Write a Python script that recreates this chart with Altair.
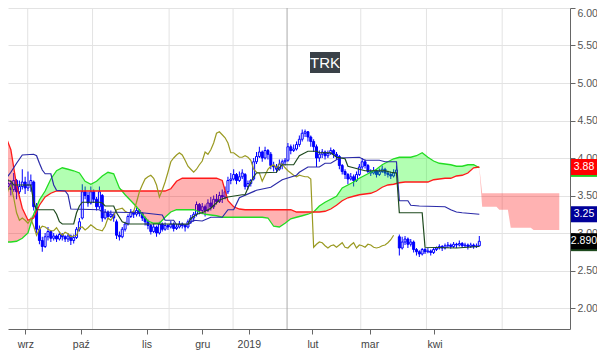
import altair as alt
import pandas as pd

# ---------------- data (x = trading-session index, 0 = first visible session) -------------
opens = [3.66, 3.62, 3.66, 3.58, 3.70, 3.55, 3.62, 3.68, 3.60, 3.64,
         3.68, 3.35, 3.05, 2.90, 2.82, 2.95, 3.02, 2.93, 2.96, 2.92,
         2.98, 2.95, 2.92, 2.96, 2.90, 2.94, 3.05, 3.20, 3.55, 3.50,
         3.40, 3.55, 3.45, 3.35, 3.50, 3.20, 3.28, 3.22, 3.25, 3.15,
         2.97, 2.95, 3.05, 3.12, 3.22, 3.28, 3.25, 3.30, 3.26, 3.20,
         3.15, 3.10, 3.02, 3.08, 3.00, 3.12, 3.05, 3.10, 3.08, 3.12,
         3.06, 3.08, 3.12, 3.10, 3.08, 3.15, 3.20, 3.25, 3.38, 3.30,
         3.35, 3.30, 3.40, 3.35, 3.45, 3.42, 3.50, 3.48, 3.55, 3.70,
         3.72, 3.78, 3.70, 3.75, 3.78, 3.62, 3.66, 3.72, 3.95, 4.02,
         4.08, 4.00, 4.10, 4.05, 3.90, 3.88, 3.85, 3.92, 3.95, 3.97,
         4.15, 4.10, 4.12, 4.18, 4.25, 4.33, 4.35, 4.28, 4.22, 4.15,
         4.00, 4.05, 4.08, 4.03, 4.06, 4.10, 4.05, 4.02, 3.90, 3.82,
         3.78, 3.72, 3.75, 3.70, 3.78, 3.88, 3.95, 3.90, 3.82, 3.80,
         3.83, 3.78, 3.82, 3.85, 3.80, 3.78, 3.76, 3.80, 2.95, 2.80,
         2.88, 2.92, 2.85, 2.88, 2.78, 2.75, 2.72, 2.78, 2.75, 2.76,
         2.74, 2.78, 2.80, 2.82, 2.80, 2.83, 2.84, 2.82, 2.85, 2.84,
         2.86, 2.83, 2.84, 2.82, 2.84, 2.82, 2.83]
highs = [3.75, 3.72, 3.70, 3.80, 3.72, 3.70, 3.85, 3.75, 3.82, 3.78,
         3.70, 3.40, 3.10, 2.95, 3.00, 3.08, 3.04, 3.00, 2.98, 3.02,
         3.00, 2.97, 3.00, 2.98, 2.98, 3.08, 3.20, 3.65, 3.62, 3.55,
         3.62, 3.58, 3.48, 3.62, 3.52, 3.32, 3.30, 3.30, 3.26, 3.18,
         3.02, 3.08, 3.15, 3.25, 3.32, 3.30, 3.34, 3.32, 3.28, 3.22,
         3.18, 3.12, 3.12, 3.10, 3.15, 3.14, 3.14, 3.12, 3.16, 3.14,
         3.12, 3.16, 3.14, 3.12, 3.18, 3.24, 3.28, 3.42, 3.40, 3.40,
         3.38, 3.45, 3.48, 3.50, 3.52, 3.55, 3.58, 3.62, 3.75, 3.80,
         3.85, 3.80, 3.82, 3.85, 3.80, 3.70, 3.72, 4.00, 4.08, 4.15,
         4.10, 4.15, 4.12, 4.08, 3.95, 3.92, 3.98, 3.98, 4.00, 4.20,
         4.18, 4.18, 4.22, 4.30, 4.38, 4.38, 4.36, 4.30, 4.25, 4.18,
         4.10, 4.12, 4.10, 4.10, 4.14, 4.12, 4.08, 4.04, 3.92, 3.85,
         3.80, 3.80, 3.78, 3.82, 3.92, 4.00, 3.98, 3.92, 3.85, 3.88,
         3.85, 3.86, 3.90, 3.87, 3.83, 3.82, 3.85, 3.90, 2.98, 2.95,
         2.96, 2.94, 2.92, 2.90, 2.80, 2.77, 2.80, 2.80, 2.80, 2.78,
         2.80, 2.82, 2.85, 2.84, 2.86, 2.88, 2.86, 2.88, 2.87, 2.90,
         2.88, 2.87, 2.86, 2.87, 2.86, 2.86, 2.96]
lows = [3.55, 3.58, 3.50, 3.55, 3.45, 3.52, 3.58, 3.52, 3.56, 3.55,
        3.30, 3.00, 2.85, 2.75, 2.80, 2.90, 2.88, 2.90, 2.88, 2.90,
        2.90, 2.88, 2.88, 2.84, 2.86, 2.92, 3.02, 3.18, 3.45, 3.35,
        3.38, 3.40, 3.30, 3.32, 3.15, 3.18, 3.18, 3.20, 3.15, 2.92,
        2.90, 2.93, 3.02, 3.10, 3.20, 3.20, 3.22, 3.22, 3.16, 3.10,
        3.05, 2.98, 3.00, 2.95, 2.98, 3.02, 3.03, 3.04, 3.06, 3.02,
        3.04, 3.06, 3.06, 3.02, 3.06, 3.12, 3.15, 3.22, 3.25, 3.25,
        3.22, 3.28, 3.30, 3.32, 3.38, 3.40, 3.40, 3.45, 3.52, 3.65,
        3.70, 3.65, 3.68, 3.72, 3.58, 3.58, 3.62, 3.70, 3.92, 4.00,
        3.95, 3.98, 3.98, 3.85, 3.82, 3.80, 3.83, 3.85, 3.90, 3.95,
        4.05, 4.08, 4.10, 4.15, 4.22, 4.28, 4.22, 4.15, 4.08, 3.88,
        3.95, 4.00, 3.98, 4.00, 4.04, 4.00, 3.98, 3.85, 3.78, 3.72,
        3.65, 3.70, 3.62, 3.68, 3.76, 3.85, 3.86, 3.80, 3.76, 3.78,
        3.74, 3.76, 3.80, 3.76, 3.74, 3.72, 3.74, 3.78, 2.70, 2.78,
        2.84, 2.80, 2.82, 2.74, 2.70, 2.68, 2.70, 2.72, 2.73, 2.70,
        2.72, 2.76, 2.78, 2.76, 2.78, 2.80, 2.79, 2.80, 2.80, 2.82,
        2.80, 2.81, 2.78, 2.80, 2.79, 2.80, 2.82]
closes = [3.62, 3.66, 3.58, 3.70, 3.55, 3.62, 3.68, 3.60, 3.64, 3.70,
          3.35, 3.05, 2.90, 2.82, 2.95, 3.02, 2.93, 2.96, 2.92, 2.98,
          2.95, 2.92, 2.96, 2.90, 2.94, 3.05, 3.15, 3.55, 3.50, 3.40,
          3.55, 3.45, 3.35, 3.55, 3.20, 3.28, 3.22, 3.25, 3.20, 2.97,
          2.95, 3.05, 3.12, 3.22, 3.28, 3.25, 3.30, 3.26, 3.20, 3.15,
          3.10, 3.02, 3.08, 3.00, 3.12, 3.05, 3.10, 3.08, 3.12, 3.06,
          3.08, 3.12, 3.10, 3.08, 3.15, 3.20, 3.25, 3.38, 3.30, 3.35,
          3.30, 3.40, 3.35, 3.45, 3.42, 3.50, 3.48, 3.55, 3.70, 3.72,
          3.78, 3.70, 3.75, 3.80, 3.62, 3.66, 3.70, 3.95, 4.02, 4.08,
          4.00, 4.10, 4.05, 3.90, 3.88, 3.85, 3.92, 3.95, 3.97, 4.15,
          4.10, 4.12, 4.18, 4.25, 4.33, 4.35, 4.28, 4.22, 4.15, 4.00,
          4.05, 4.08, 4.03, 4.06, 4.10, 4.05, 4.02, 3.90, 3.82, 3.78,
          3.72, 3.75, 3.70, 3.78, 3.88, 3.95, 3.90, 3.82, 3.80, 3.83,
          3.78, 3.82, 3.85, 3.80, 3.78, 3.76, 3.80, 3.84, 2.80, 2.88,
          2.92, 2.85, 2.88, 2.78, 2.75, 2.72, 2.78, 2.75, 2.76, 2.74,
          2.78, 2.80, 2.82, 2.80, 2.83, 2.84, 2.82, 2.85, 2.84, 2.86,
          2.83, 2.84, 2.82, 2.84, 2.82, 2.83, 2.89]

tenkan_days = [0, 2, 3, 9, 10, 11, 17, 18, 19, 20, 24, 25, 26, 27, 33, 34, 35, 38, 39, 41,
               43, 64, 65, 67, 69, 72, 75, 78, 83, 84, 85, 87, 88, 95, 96, 97, 101, 103, 106, 109,
               110, 114, 116, 119, 120, 126, 133, 135, 137, 138, 146, 147, 158, 166]
tenkan_vals = [3.71, 3.69, 3.64, 3.64, 3.41, 3.31, 3.31, 3.25, 3.15, 3.12, 3.12, 3.27, 3.36, 3.41,
               3.41, 3.40, 3.36, 3.36, 3.27, 3.15, 3.12, 3.12, 3.19, 3.25, 3.27, 3.33, 3.44, 3.48,
               3.51, 3.51, 3.60, 3.75, 3.80, 3.81, 3.87, 3.91, 3.91, 4.03, 4.09, 4.09, 4.07, 4.07,
               4.01, 3.99, 3.89, 3.83, 3.83, 3.81, 3.80, 3.27, 3.27, 2.81, 2.80, 2.82]

kijun_days = [0, 1, 2, 3, 4, 6, 10, 11, 12, 13, 14, 16, 17, 18, 21, 22, 23, 33, 34, 48,
              55, 56, 59, 60, 64, 66, 69, 72, 76, 78, 80, 82, 88, 93, 97, 102, 103, 106, 110, 112,
              114, 117, 124, 126, 131, 133, 137, 138, 141, 142, 145, 154, 156, 158, 160, 166]
kijun_vals = [3.73, 3.76, 3.81, 3.87, 3.93, 4.04, 4.05, 4.03, 3.93, 3.84, 3.79, 3.79, 3.64, 3.57,
              3.56, 3.51, 3.32, 3.31, 3.28, 3.27, 3.24, 3.17, 3.17, 3.11, 3.11, 3.17, 3.16, 3.21,
              3.21, 3.31, 3.31, 3.47, 3.57, 3.61, 3.71, 3.77, 3.81, 3.88, 3.88, 3.93, 3.93, 4.00,
              4.01, 3.97, 3.97, 3.95, 3.95, 3.43, 3.43, 3.37, 3.36, 3.35, 3.31, 3.28, 3.27, 3.25]

chikou_vals = [3.44, 3.57, 3.64, 3.47, 3.27, 3.17, 3.20, 3.17, 3.13, 3.19,
               3.09, 2.97, 3.05, 3.09, 3.08, 3.05, 3.03, 3.03, 3.07, 3.01,
               2.97, 3.01, 2.99, 2.95, 2.96, 2.97, 3.07, 3.08, 3.04, 3.07,
               3.11, 3.08, 3.05, 3.04, 3.03, 3.09, 3.20, 3.17, 3.23, 3.31,
               3.32, 3.33, 3.29, 3.27, 3.27, 3.29, 3.41, 3.55, 3.64, 3.72,
               3.75, 3.77, 3.73, 3.64, 3.48, 3.57, 3.68, 3.81, 3.95, 4.00,
               4.04, 4.07, 4.04, 3.97, 3.89, 3.85, 3.81, 3.85, 3.91, 3.96,
               4.08, 4.05, 4.11, 4.20, 4.33, 4.35, 4.31, 4.27, 4.20, 4.07,
               4.07, 4.04, 4.01, 4.01, 4.03, 4.01, 3.97, 3.85, 3.81, 3.80,
               3.69, 3.77, 3.85, 3.89, 3.91, 3.87, 3.92, 3.92, 3.87, 3.83,
               3.80, 3.77, 3.75, 3.77, 3.76, 3.75, 3.75, 3.72, 2.81, 2.85,
               2.88, 2.87, 2.83, 2.80, 2.83, 2.84, 2.81, 2.84, 2.87, 2.81,
               2.80, 2.84, 2.87, 2.80, 2.84, 2.83, 2.81, 2.85, 2.84, 2.81,
               2.80, 2.81, 2.83, 2.84, 2.87, 2.91, 2.97]

cloud_days = list(range(0, 167, 2)) + list(range(167, 195))
span_a = [2.88, 2.88, 2.89, 2.93, 3.00, 3.25, 3.44, 3.56, 3.72, 3.83,
          3.87, 3.85, 3.83, 3.80, 3.69, 3.65, 3.69, 3.76, 3.81, 3.79,
          3.60, 3.51, 3.43, 3.35, 3.25, 3.16, 3.13, 3.13, 3.21, 3.28,
          3.31, 3.31, 3.31, 3.31, 3.28, 3.25, 3.24, 3.23, 3.21, 3.21,
          3.21, 3.21, 3.21, 3.21, 3.21, 3.21, 3.20, 3.09, 3.08, 3.13,
          3.19, 3.21, 3.23, 3.25, 3.28, 3.36, 3.41, 3.45, 3.49, 3.60,
          3.64, 3.68, 3.73, 3.77, 3.81, 3.85, 3.91, 3.95, 3.99, 4.01,
          4.01, 4.01, 4.03, 4.07, 4.01, 3.96, 3.93, 3.92, 3.91, 3.89,
          3.89, 3.91, 3.91, 3.87,
          3.35, 3.35, 3.35, 3.35, 3.35, 3.35, 3.31, 3.31, 3.31, 3.31,
          3.07, 3.07, 3.07, 3.07, 3.07, 3.07, 3.07, 3.07,
          3.04, 3.04, 3.04, 3.04, 3.04, 3.04, 3.04, 3.04, 3.04, 3.04]
span_b = [4.31, 4.11, 3.64, 3.33, 3.17, 3.20, 3.37, 3.48, 3.53, 3.56,
          3.56, 3.56, 3.56, 3.56, 3.56, 3.56, 3.56, 3.56, 3.56, 3.56,
          3.56, 3.56, 3.56, 3.56, 3.56, 3.56, 3.56, 3.56, 3.56, 3.59,
          3.69, 3.73, 3.73, 3.73, 3.73, 3.73, 3.73, 3.73, 3.70, 3.43,
          3.35, 3.32, 3.31, 3.31, 3.31, 3.31, 3.31, 3.31, 3.31, 3.31,
          3.31, 3.28, 3.28, 3.28, 3.28, 3.28, 3.29, 3.32, 3.37, 3.43,
          3.47, 3.49, 3.51, 3.52, 3.53, 3.56, 3.61, 3.64, 3.65, 3.67,
          3.68, 3.68, 3.68, 3.68, 3.68, 3.71, 3.72, 3.73, 3.73, 3.76,
          3.77, 3.80, 3.87, 3.88,
          3.53, 3.53, 3.53, 3.53, 3.53, 3.53, 3.53, 3.53, 3.53, 3.53,
          3.53, 3.53, 3.53, 3.53, 3.53, 3.53, 3.53, 3.53, 3.53, 3.53,
          3.53, 3.53, 3.53, 3.53, 3.53, 3.53, 3.53, 3.53]

month_days = [7.1, 26.5, 49.5, 69.0, 85.3, 107.6, 127.6, 150.3]
month_labels = ["wrz", "paź", "lis", "gru", "2019", "lut", "mar", "kwi"]
grid_days = [7.9, 30.6, 57.4, 79.8, 124.5, 147.5, 174.0]
year_day = [98.7]
y_ticks = [2.0, 2.5, 3.0, 3.5, 4.0, 4.5, 5.0, 5.5, 6.0]

badge_vals = [3.855, 3.88, 3.25, 2.865, 2.89]
badge_text = ["", "3.88", "3.25", "", "2.890"]
badge_cols = ["#22cc22", "#ff0000", "#000099", "#1e4a1e", "#000000"]

title_text = "TRK"

# ---------------- tables ----------------
assert len(opens) == len(highs) == len(lows) == len(closes)
assert len(tenkan_days) == len(tenkan_vals) and len(kijun_days) == len(kijun_vals)
assert len(cloud_days) == len(span_a) == len(span_b)
n = len(closes)
candles = pd.DataFrame({"d": list(range(n)), "o": opens, "h": highs, "l": lows, "c": closes})
tenkan = pd.DataFrame({"d": tenkan_days, "v": tenkan_vals})
kijun = pd.DataFrame({"d": kijun_days, "v": kijun_vals})
chikou = pd.DataFrame({"d": list(range(len(chikou_vals))), "v": chikou_vals})
cloud = pd.DataFrame({"d": cloud_days, "a": span_a, "b": span_b})
cloud_hist = cloud[cloud["d"] <= n - 1]
grid = pd.DataFrame({"d": grid_days})
yline = pd.DataFrame({"d": year_day})
badges = pd.DataFrame({"v": badge_vals, "t": badge_text, "col": badge_cols})
title_df = pd.DataFrame({"t": [title_text]})

# ---------------- scales / axes ----------------
xscale = alt.Scale(domain=[2.75, 196], nice=False, zero=False)
yscale = alt.Scale(domain=[1.72, 6.0], nice=False, zero=False)

expr = ""
for v, lab in zip(month_days, month_labels):
    expr += f"abs(datum.value - {v}) < 0.3 ? '{lab}' : "
expr += "''"

xaxis = alt.Axis(values=month_days, labelExpr=expr, grid=False, domainColor="#666666",
                 tickColor="#666666", tickSize=5, labelColor="#444444", labelFontSize=10.5,
                 labelPadding=5, labelAngle=0, labelFlush=False, title=None)
yaxis = alt.Axis(orient="right", values=y_ticks, format=".2f", grid=True, gridColor="#e3e3e3",
                 domainColor="#666666", tickColor="#666666", tickSize=5, labelColor="#555555",
                 labelFontSize=10.5, labelPadding=2, title=None, labelFlush=False,
                 labelBaseline={"condition": {"test": "datum.value >= 5.99", "value": "top"},
                                "value": "middle"})


def X(f):
    return alt.X(f, type="quantitative", scale=xscale, axis=xaxis)


def Y(f):
    return alt.Y(f, type="quantitative", scale=yscale, axis=yaxis)


# ---------------- layers ----------------
vgrid = alt.Chart(grid).mark_rule(color="#e3e3e3", strokeWidth=1).encode(x=X("d"))
ygrid = alt.Chart(yline).mark_rule(color="#aaaaaa", strokeWidth=1).encode(x=X("d"))

wicks = alt.Chart(candles).mark_rule(color="#0000ff", strokeWidth=1, clip=True).encode(
    x=X("d"), y=Y("l"), y2="h")
bodies = alt.Chart(candles).mark_bar(size=2, stroke="#0000ff", strokeWidth=1, clip=True).encode(
    x=X("d"), y=Y("o"), y2="c",
    fill=alt.condition("datum.c > datum.o", alt.value("#ffffff"), alt.value("#0000ff")))

green_fill = alt.Chart(cloud).transform_calculate(hi="max(datum.a, datum.b)").mark_area(
    color="#00ff00", opacity=0.3, clip=True).encode(x=X("d"), y=Y("b"), y2="hi:Q")
red_fill = alt.Chart(cloud).transform_calculate(hi="max(datum.a, datum.b)").mark_area(
    color="#ff0000", opacity=0.3, clip=True).encode(x=X("d"), y=Y("a"), y2="hi:Q")

line_a = alt.Chart(cloud_hist).mark_line(color="#22dd22", strokeWidth=1.3, clip=True).encode(
    x=X("d"), y=Y("a"))
line_b = alt.Chart(cloud_hist).mark_line(color="#ff1a1a", strokeWidth=1.3, clip=True).encode(
    x=X("d"), y=Y("b"))
chikou_line = alt.Chart(chikou).mark_line(color="#9a9a22", strokeWidth=1.2, clip=True).encode(
    x=X("d"), y=Y("v"))
kijun_line = alt.Chart(kijun).mark_line(color="#2a2aa8", strokeWidth=1.2, clip=True).encode(
    x=X("d"), y=Y("v"))
tenkan_line = alt.Chart(tenkan).mark_line(color="#1e4a1e", strokeWidth=1.2, clip=True).encode(
    x=X("d"), y=Y("v"))

badge_base = alt.Chart(badges).transform_calculate(lo="datum.v - 0.107", hi="datum.v + 0.107")
badge_rect = badge_base.mark_rect().encode(
    y=Y("lo:Q"), y2="hi:Q", x=alt.value(563), x2=alt.value(589),
    color=alt.Color("col:N", scale=None))
badge_txt = badge_base.mark_text(color="white", fontSize=10.5, font="Liberation Sans",
                                 align="center", baseline="middle").encode(
    y=Y("v:Q"), x=alt.value(576), text="t:N")

title_box = alt.Chart(title_df).mark_rect(color="#3a4148").encode(
    x=alt.value(302), x2=alt.value(332), y=alt.value(44), y2=alt.value(65))
title_txt = alt.Chart(title_df).mark_text(color="white", fontSize=15, font="Liberation Sans",
                                          align="center", baseline="middle").encode(
    x=alt.value(317), y=alt.value(55), text="t:N")

chart = alt.layer(
    vgrid, ygrid, wicks, bodies, green_fill, red_fill, line_a, line_b,
    chikou_line, kijun_line, tenkan_line,
    badge_rect, badge_txt, title_box, title_txt
).properties(
    width=562, height=321,
    autosize=alt.AutoSizeParams(type="none"),
    padding={"left": 0, "top": 0, "right": 27, "bottom": 27},
    background="white",
).configure_view(stroke=None).configure_axis(labelFont="Liberation Sans")

chart.save("out.html", embed_options={"renderer": "svg", "actions": False})
